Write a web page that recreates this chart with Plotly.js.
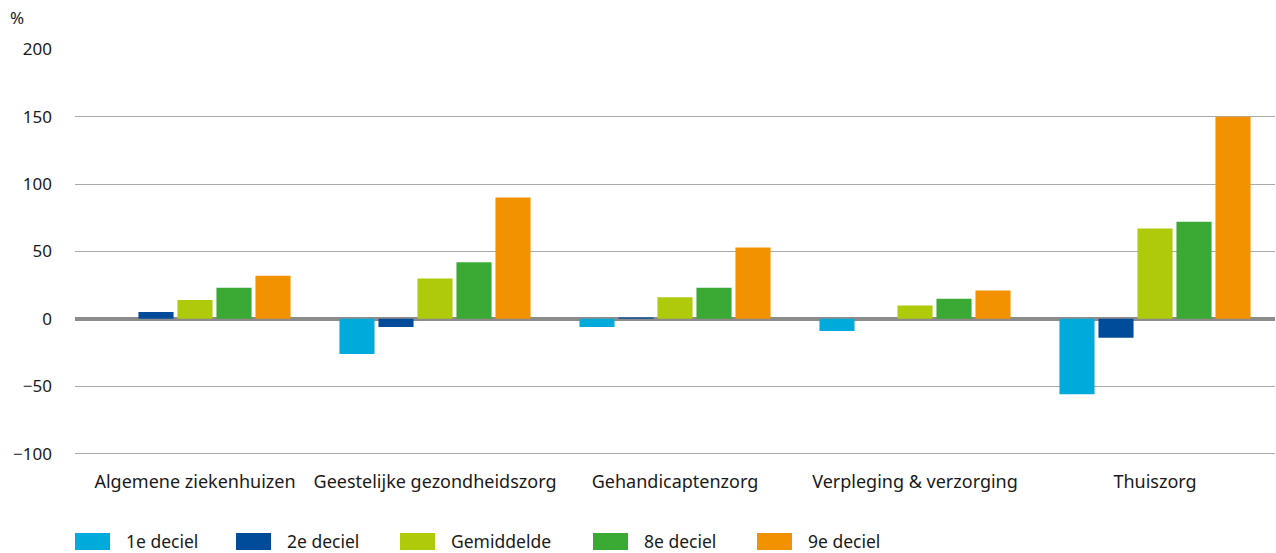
<!DOCTYPE html>
<html>
<head>
<meta charset="utf-8">
<script src="https://cdn.plot.ly/plotly-3.0.1.min.js"></script>
<style>html,body{margin:0;padding:0;background:#fff;}#chart{width:1276px;height:553px;}</style>
</head>
<body>
<div id="chart"></div>
<script>
const categories = ["Algemene ziekenhuizen", "Geestelijke gezondheidszorg", "Gehandicaptenzorg", "Verpleging & verzorging", "Thuiszorg"];
const seriesNames = ["1e deciel", "2e deciel", "Gemiddelde", "8e deciel", "9e deciel"];
const deciel1 = [0, -26, -6, -9, -56];
const deciel2 = [5, -6, 1, 0, -14];
const gemiddelde = [14, 30, 16, 10, 67];
const deciel8 = [23, 42, 23, 15, 72];
const deciel9 = [32, 90, 53, 21, 150];
const yTicks = [-100, -50, 0, 50, 100, 150, 200];
const yTickLabels = ["\u2212100", "\u221250", "0", "50", "100", "150", "200"];

const colors = ["#00AADB", "#004C9A", "#AFCA0B", "#3BAA34", "#F29200"];
const allValues = [deciel1, deciel2, gemiddelde, deciel8, deciel9];

const traces = allValues.map((vals, i) => ({
  type: "bar",
  name: seriesNames[i],
  x: categories,
  y: vals,
  marker: {color: colors[i], line: {width: 0}},
  showlegend: false,
  hoverinfo: "x+y+name"
}));

const T = 49, B = 98, H = 553 - T - B; // plot height in px
const bottomPx = 553 - B;
const legendSwatchX = [75, 236, 400, 593, 757];
const shapes = [];
const annotations = [];
legendSwatchX.forEach((x0, i) => {
  shapes.push({type: "rect", xref: "paper", yref: "paper",
    x0: (x0 - 75) / 1200, x1: (x0 + 35 - 75) / 1200,
    y0: -(533 - bottomPx) / H, y1: -(550 - bottomPx) / H,
    fillcolor: colors[i], line: {width: 0}});
  annotations.push({xref: "paper", yref: "paper",
    x: (x0 + 49 - 75) / 1200, y: -(541 - bottomPx) / H,
    xanchor: "left", yanchor: "middle", showarrow: false,
    text: seriesNames[i], font: {size: 17.5, color: "#1a1a1a"}});
});
annotations.push({xref: "paper", yref: "paper", x: -(75 - 8) / 1200, y: 1 + (49 - 18) / H,
  xanchor: "left", yanchor: "middle", showarrow: false, text: "%", font: {size: 17, color: "#1a1a1a"}});

const layout = {
  width: 1276, height: 553,
  margin: {l: 75, r: 1, t: T, b: B},
  barmode: "group",
  bargap: 0.1875,
  bargroupgap: 0.1,
  paper_bgcolor: "#fff",
  plot_bgcolor: "#fff",
  font: {family: "Noto Sans, Open Sans, sans-serif", size: 18, color: "#1a1a1a"},
  showlegend: false,
  xaxis: {
    showgrid: false, showline: false, zeroline: false, ticks: "",
    tickfont: {size: 18, color: "#1a1a1a"}, automargin: false, ticklabelstandoff: 14
  },
  yaxis: {
    range: [-101, 200.2], tickvals: yTicks, ticktext: yTickLabels,
    showgrid: true, gridcolor: "#aaaaaa", gridwidth: 1,
    zeroline: true, zerolinecolor: "#8c8c8c", zerolinewidth: 4,
    showline: false, ticks: "", ticklabelstandoff: 22,
    tickfont: {size: 17, color: "#1a1a1a"}, automargin: false, fixedrange: true
  },
  shapes: shapes,
  annotations: annotations
};

Plotly.newPlot("chart", traces, layout, {displayModeBar: false, staticPlot: true});
</script>
</body>
</html>
